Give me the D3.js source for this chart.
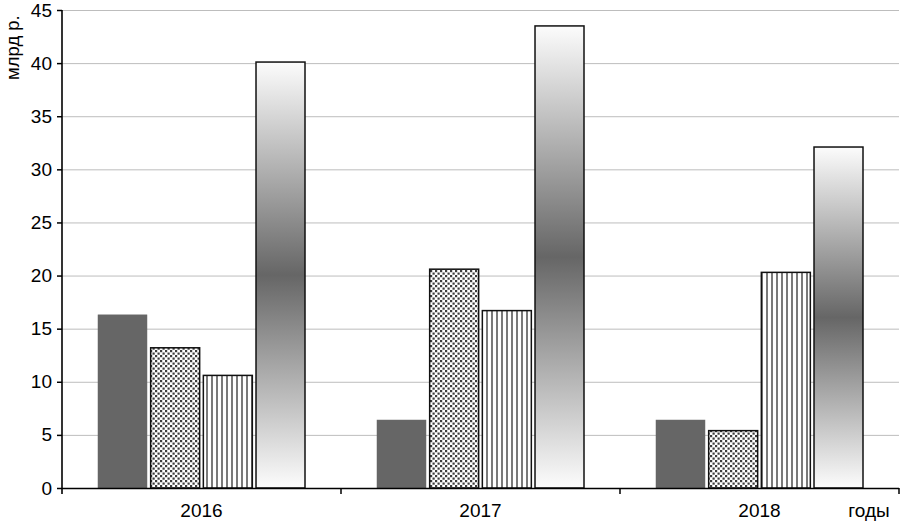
<!DOCTYPE html>
<html><head><meta charset="utf-8">
<script src="https://cdn.jsdelivr.net/npm/d3@7"></script>
<style>body{margin:0;background:#fff}svg{display:block}</style>
</head><body>
<svg id="c" width="900" height="522"></svg>
<script>
const years = ["2016","2017","2018"];
const seriesNames = ["s1","s2","s3","s4"];
const s1 = [16.3, 6.4, 6.4];
const s2 = [13.2, 20.6, 5.4];
const s3 = [10.6, 16.7, 20.3];
const s4 = [40.1, 43.5, 32.1];
const yTicks = [0,5,10,15,20,25,30,35,40,45];
const yLabel = "млрд р.";
const xLabel = "годы";

const values = [s1, s2, s3, s4];
const svg = d3.select("#c");
const font = "'Liberation Sans', Arial, sans-serif";
const L = 62, R = 899, T = 10, B = 488;

const defs = svg.append("defs");
const dots = defs.append("pattern").attr("id","dots").attr("patternUnits","userSpaceOnUse")
  .attr("width",5).attr("height",5);
dots.append("rect").attr("width",5).attr("height",5).attr("fill","#fff");
dots.append("rect").attr("x",0).attr("y",0).attr("width",2.2).attr("height",2.2).attr("fill","#3c3c3c");
dots.append("rect").attr("x",2.5).attr("y",2.5).attr("width",2.2).attr("height",2.2).attr("fill","#3c3c3c");
const stripes = defs.append("pattern").attr("id","stripes").attr("patternUnits","userSpaceOnUse")
  .attr("width",5).attr("height",10);
stripes.append("rect").attr("width",5).attr("height",10).attr("fill","#fff");
stripes.append("rect").attr("x",1).attr("width",2).attr("height",10).attr("fill","#7a7a7a");
const grad = defs.append("linearGradient").attr("id","grad").attr("x1",0).attr("y1",0).attr("x2",0).attr("y2",1);
grad.append("stop").attr("offset","0%").attr("stop-color","#fcfcfc");
grad.append("stop").attr("offset","50%").attr("stop-color","#666");
grad.append("stop").attr("offset","100%").attr("stop-color","#fcfcfc");

const fills = ["#666","url(#dots)","url(#stripes)","url(#grad)"];
const strokes = ["#666","#111","#111","#111"];

const y = d3.scaleLinear().domain([0,45]).range([B,T]);
const x0 = d3.scaleBand().domain(years).range([L,R]).padding(0);
const x1 = d3.scaleBand().domain(seriesNames).range([36,243]).paddingInner(0.07).paddingOuter(0);

// grid
svg.append("g").selectAll("line").data(yTicks.filter(d=>d>0)).join("line")
  .attr("x1",L).attr("x2",R).attr("y1",d=>y(d)+0.5).attr("y2",d=>y(d)+0.5)
  .attr("stroke","#bdbdbd").attr("stroke-width",1);

// bars
const g = svg.append("g");
years.forEach((yr,i)=>{
  seriesNames.forEach((s,j)=>{
    const v = values[j][i];
    g.append("rect")
      .attr("x", x0(yr)+x1(s)).attr("y", y(v))
      .attr("width", x1.bandwidth()).attr("height", B - y(v))
      .attr("fill", fills[j]).attr("stroke", strokes[j]).attr("stroke-width", j===0?0.5:1.5);
  });
});

// y axis
const ya = svg.append("g").attr("transform",`translate(${L},0)`)
  .call(d3.axisLeft(y).tickValues(yTicks).tickSize(5).tickPadding(5));
ya.select(".domain").remove();
ya.selectAll(".tick line").attr("stroke","#000").attr("stroke-width",1.5);
ya.selectAll("text").attr("font-family",font).attr("font-size",19).attr("fill","#000");
svg.append("line").attr("x1",L).attr("x2",L).attr("y1",T).attr("y2",B+6).attr("stroke","#000").attr("stroke-width",1.6);

// x axis
svg.append("line").attr("x1",L).attr("x2",R).attr("y1",B+0.5).attr("y2",B+0.5).attr("stroke","#000").attr("stroke-width",1.6);
svg.append("g").selectAll("line").data(years).join("line")
  .attr("x1",d=>x0(d)+x0.bandwidth()).attr("x2",d=>x0(d)+x0.bandwidth())
  .attr("y1",B).attr("y2",B+6).attr("stroke","#000").attr("stroke-width",1.5);
svg.append("g").selectAll("text").data(years).join("text")
  .attr("x",d=>x0(d)+x0.bandwidth()/2).attr("y",B+29)
  .attr("text-anchor","middle").attr("font-family",font).attr("font-size",19).text(d=>d);

svg.append("text").attr("x",869).attr("y",B+29).attr("text-anchor","middle")
  .attr("font-family",font).attr("font-size",19).text(xLabel);
svg.append("text").attr("transform","translate(19,80) rotate(-90)")
  .attr("text-anchor","start").attr("font-family",font).attr("font-size",18.5).text(yLabel);
</script>
</body></html>
